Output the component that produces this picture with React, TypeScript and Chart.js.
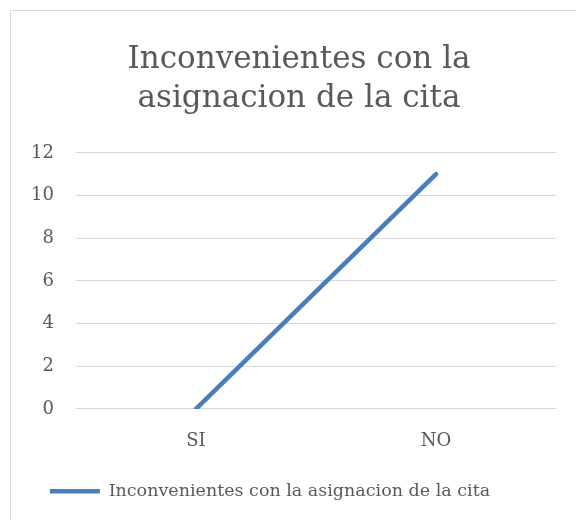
import React, { useEffect, useRef } from "react";
import { Chart, registerables } from "chart.js";

Chart.register(...registerables);

const categories = ["SI", "NO"];
const seriesName = "Inconvenientes con la asignacion de la cita";
const seriesValues = [0, 11];
const titleLines = ["Inconvenientes con la", "asignacion de la cita"];

const FONT = "'DejaVu Serif', serif";
const TEXT = "#595959";

function shiftBox(chart: any, box: any, dx: number) {
  if (!box) return;
  const orig = box.draw.bind(box);
  box.draw = (...args: any[]) => {
    const c = chart.ctx;
    c.save();
    c.translate(dx, 0);
    orig(...args);
    c.restore();
  };
}

export default function App() {
  const ref = useRef<HTMLCanvasElement | null>(null);
  useEffect(() => {
    document.body.style.margin = "0";
    const ctx = ref.current!;
    const chart = new Chart(ctx, {
      type: "line",
      data: {
        labels: categories,
        datasets: [
          {
            label: seriesName,
            data: seriesValues,
            borderColor: "#4A7EBB",
            backgroundColor: "#4A7EBB",
            borderWidth: 4.5,
            pointRadius: 0,
            pointHoverRadius: 0,
            borderCapStyle: "round",
            tension: 0,
          },
        ],
      },
      options: {
        responsive: false,
        animation: false,
        layout: { padding: { left: 10, right: 20, top: 41, bottom: 10 } },
        plugins: {
          title: {
            display: true,
            text: titleLines,
            color: TEXT,
            font: { family: FONT, size: 31, weight: "normal", lineHeight: 1.24 },
            padding: { top: 0, bottom: 35 },
          },
          legend: {
            position: "bottom",
            labels: {
              color: TEXT,
              font: { family: FONT, size: 17.5 },
              usePointStyle: true,
              pointStyle: "line",
              pointStyleWidth: 50,
              boxWidth: 50,
              padding: 8,
            },
          },
          tooltip: { enabled: false },
        },
        scales: {
          x: {
            offset: true,
            grid: { display: false, drawTicks: false },
            border: { display: false },
            ticks: { color: TEXT, font: { family: FONT, size: 18 }, padding: 22 },
          },
          y: {
            min: 0,
            max: 12,
            ticks: { stepSize: 2, color: TEXT, font: { family: FONT, size: 18 }, padding: 22 },
            grid: { color: "#d9d9d9", lineWidth: 1, drawTicks: false },
            border: { display: false },
            afterFit: (s: any) => {
              s.width = 66;
            },
          },
        },
      },
    });
    shiftBox(chart, (chart as any).titleBlock, 16);
    shiftBox(chart, (chart as any).legend, -13);
    chart.draw();
    return () => chart.destroy();
  }, []);
  return (
    <div style={{ position: "relative", width: 576, height: 520, background: "#fff" }}>
      <canvas ref={ref} width={576} height={520} style={{ position: "absolute", left: 0, top: 0 }} />
      <div
        style={{
          position: "absolute",
          left: 10,
          top: 10,
          width: 570,
          height: 520,
          border: "1px solid #d9d9d9",
          boxSizing: "border-box",
          pointerEvents: "none",
        }}
      />
    </div>
  );
}
